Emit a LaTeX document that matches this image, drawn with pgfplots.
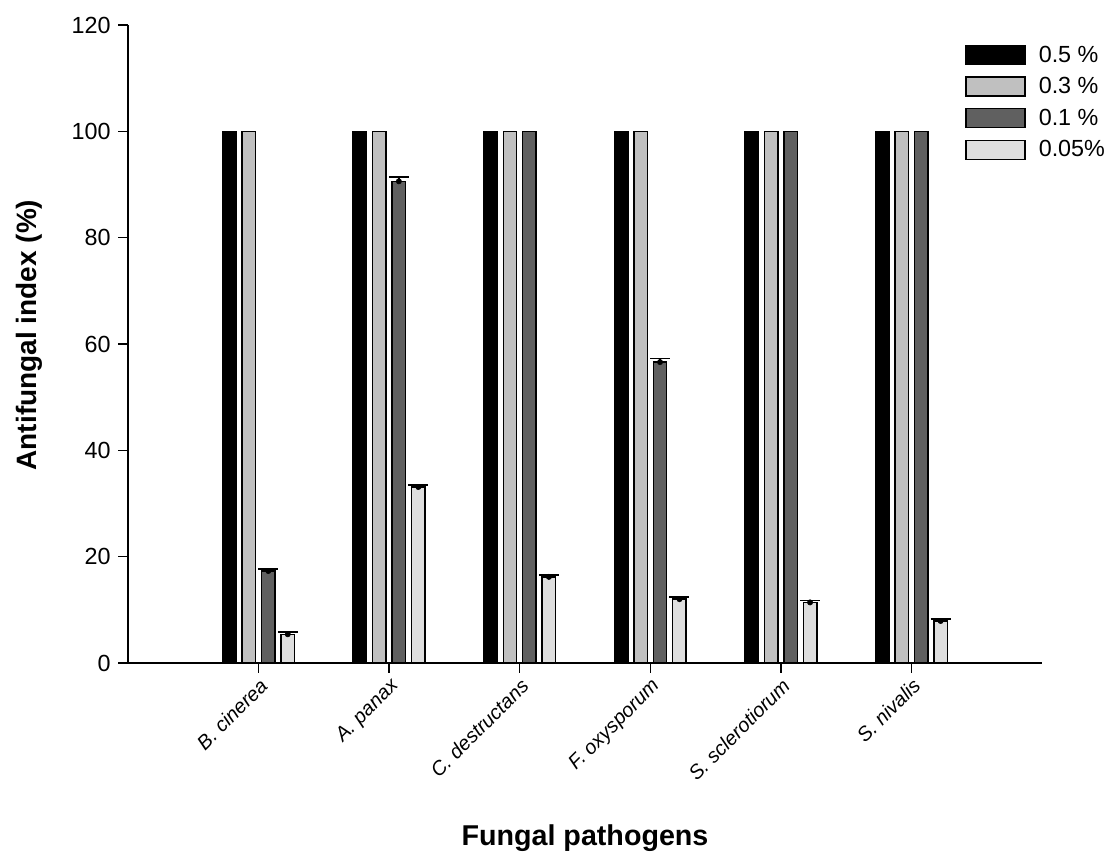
\documentclass[border=0pt]{standalone}
\usepackage{fontspec}
\setmainfont{Liberation Sans}
\usepackage{pgfplots}
\pgfplotsset{compat=1.18}
\definecolor{cA}{HTML}{000000}
\definecolor{cB}{HTML}{C0C0C0}
\definecolor{cC}{HTML}{606060}
\definecolor{cD}{HTML}{DEDEDE}
\pgfplotsset{
 mybar/.style={ybar, bar width=10.1pt, draw=black, line width=1.1pt,
   legend image code/.code={\draw[##1, line width=1.1pt] (0pt,-7.1pt) rectangle (44.25pt,7.1pt); \path (52pt,0pt);}},
 myerr/.style={forget plot, only marks, mark=none, error bars/.cd, y dir=plus, y explicit,
   error bar style={draw=black, line width=1.2pt},
   error mark options={draw=black, line width=1.2pt, mark size=7.5pt, rotate=90}}
}
\begin{document}
\begin{tikzpicture}
\path[use as bounding box] (-96pt,-141.75pt) rectangle (735.75pt,497.25pt);
\begin{axis}[
 scale only axis, width=685.5pt, height=478.5pt,
 at={(0,0)}, anchor=south west,
 xmin=0, xmax=7, ymin=0, ymax=120,
 axis lines*=left,
 axis line style={line width=1.1pt},
 xtick={1,...,6},
 xticklabels={B. cinerea, A. panax, C. destructans, F. oxysporum, S. sclerotiorum, S. nivalis},
 ytick={0,20,...,120},
 tick align=outside, major tick length=7.5pt,
 tick style={line width=1.1pt, black},
 x tick label style={rotate=45, anchor=north east, font=\fontsize{15}{17}\selectfont\itshape, inner sep=2pt},
 y tick label style={font=\fontsize{17.5}{20}\selectfont, xshift=-2pt},
 /pgf/number format/assume math mode=true,
 ylabel={Antifungal index (\%)},
 ylabel style={font=\fontsize{21}{24}\selectfont\bfseries, at={(axis description cs:-0.108,0.514)}, anchor=center, rotate=0},
 xlabel={Fungal pathogens},
 xlabel style={font=\fontsize{21.5}{24}\selectfont\bfseries, at={(axis description cs:0.5,0)}, anchor=center, yshift=-131pt},
 legend style={draw=none, fill=none, at={(axis description cs:0.9158,0.972)}, anchor=north west,
   inner sep=0pt, row sep=6pt, font=\fontsize{17.5}{20}\selectfont, legend cell align=left},
]
\addplot[mybar, fill=cA, bar shift=-21.9pt] coordinates {(1,100) (2,100) (3,100) (4,100) (5,100) (6,100)};
\addlegendentry{0.5 \%}
\addplot[mybar, fill=cB, bar shift=-7.3pt] coordinates {(1,100) (2,100) (3,100) (4,100) (5,100) (6,100)};
\addlegendentry{0.3 \%}
\addplot[mybar, fill=cC, bar shift=7.3pt] coordinates {(1,17.3) (2,90.6) (3,100) (4,56.6) (5,100) (6,100)};
\addlegendentry{0.1 \%}
\addplot[mybar, fill=cD, bar shift=21.9pt] coordinates {(1,5.4) (2,33.1) (3,16.2) (4,12.0) (5,11.4) (6,7.9)};
\addlegendentry{0.05\%}
% error bars (upper), at the bar centres
\addplot[myerr] coordinates {(1.0745,17.3) +- (0,0.35) (2.0745,90.6) +- (0,0.8) (4.0745,56.6) +- (0,0.7)};
\addplot[myerr] coordinates {(1.2236,5.4) +- (0,0.4) (2.2236,33.1) +- (0,0.4) (3.2236,16.2) +- (0,0.4) (4.2236,12.0) +- (0,0.4) (5.2236,11.4) +- (0,0.35) (6.2236,7.9) +- (0,0.35)};
\end{axis}
\end{tikzpicture}
\end{document}
